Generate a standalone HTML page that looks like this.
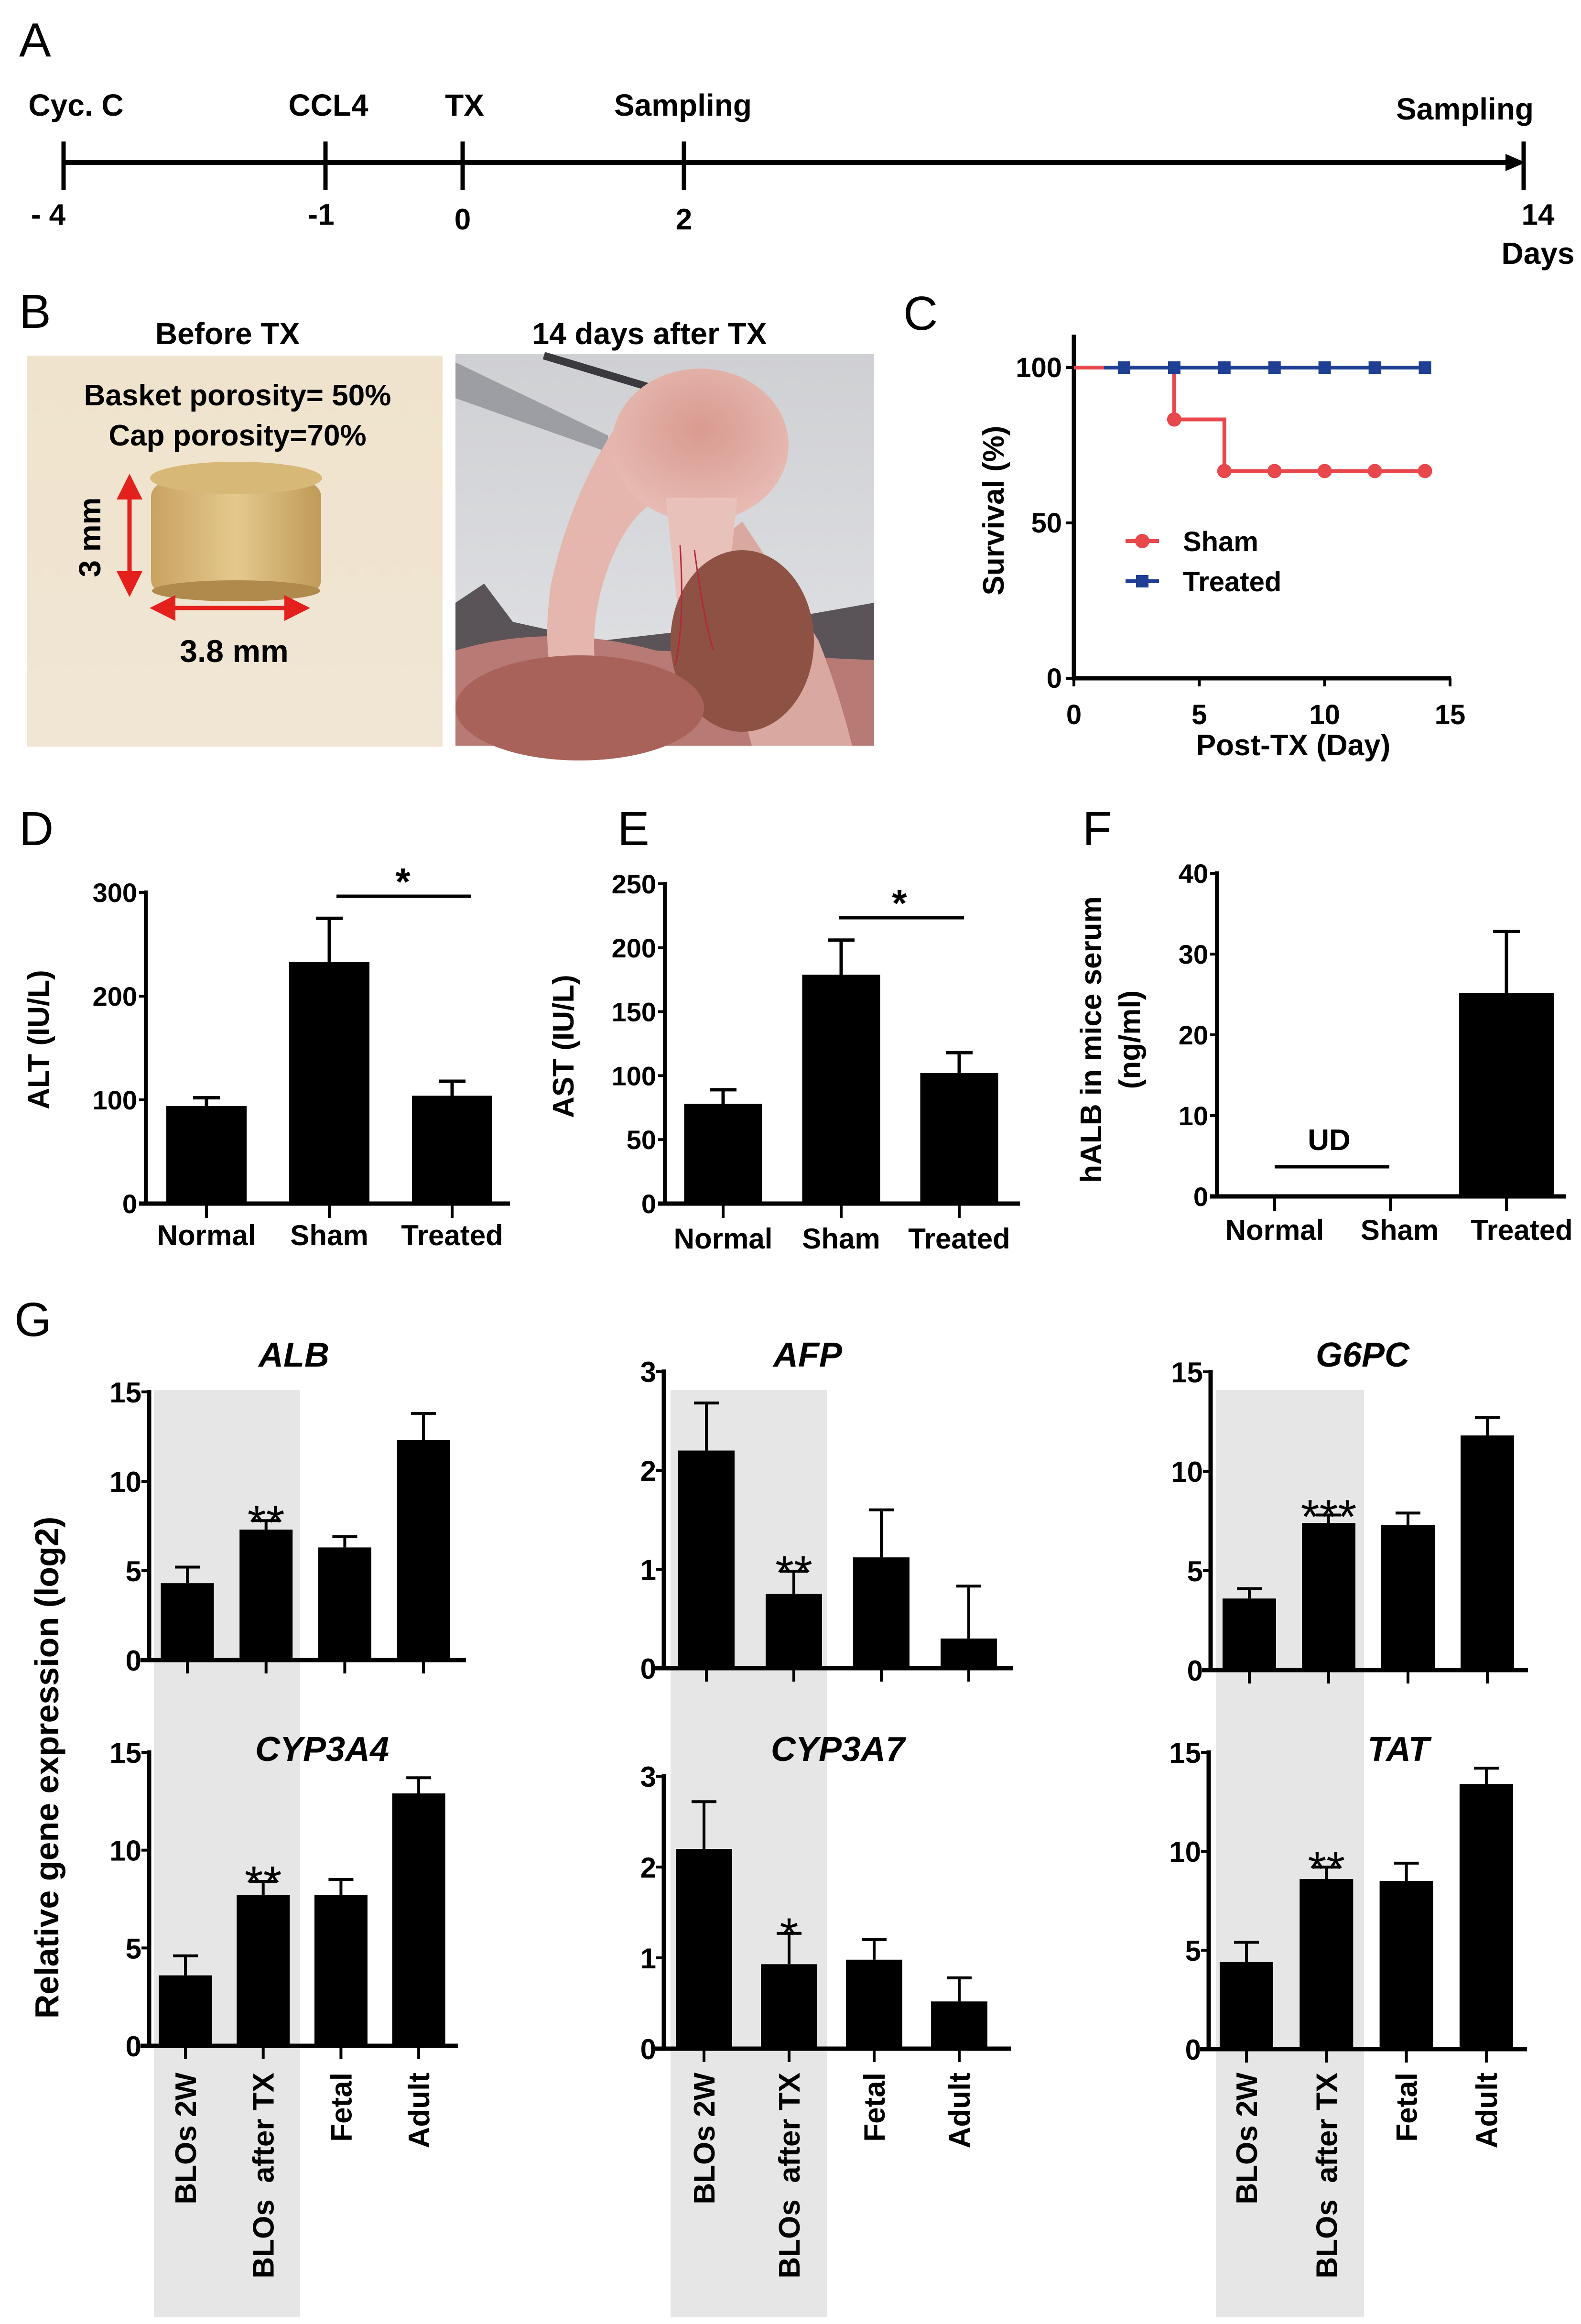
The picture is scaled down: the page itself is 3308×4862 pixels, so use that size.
<!DOCTYPE html>
<html><head><meta charset="utf-8"><title>Figure</title>
<style>
html,body{margin:0;padding:0;background:#fff;}
svg{display:block;}
text{font-family:"Liberation Sans",Arial,sans-serif;}
.nar{font-family:"Liberation Sans Narrow","Liberation Sans",Arial,sans-serif;}
</style></head>
<body>
<svg id="fig" xmlns="http://www.w3.org/2000/svg" width="3308" height="4862" viewBox="0 0 3308 4862">
<defs>
<linearGradient id="beige" x1="0" y1="0" x2="0" y2="1"><stop offset="0" stop-color="#efe3cd"/><stop offset="1" stop-color="#f1e6d4"/></linearGradient>
<linearGradient id="gold" x1="0" y1="0" x2="1" y2="0"><stop offset="0" stop-color="#c9a260"/><stop offset="0.5" stop-color="#e4c98e"/><stop offset="1" stop-color="#c09a58"/></linearGradient>
<linearGradient id="sky" x1="0" y1="0" x2="0" y2="1"><stop offset="0" stop-color="#cfd0d3"/><stop offset="1" stop-color="#e2e3e6"/></linearGradient>
<radialGradient id="pink" cx="0.5" cy="0.4" r="0.6"><stop offset="0" stop-color="#d99a90"/><stop offset="1" stop-color="#e7bcb4"/></radialGradient>
<marker id="arrR" markerWidth="6" markerHeight="6" refX="5" refY="3" orient="auto-start-reverse"><path d="M0,0 L6,3 L0,6 z" fill="#e3201b"/></marker>
</defs>
<g id="root"></g>
</svg>
<script>
// ---------- DATA ----------
const tlDays = [-4, -1, 0, 2, 14];
const tlEvents = ["Cyc. C", "CCL4", "TX", "Sampling", "Sampling"];
const tlTickLabels = ["- 4", "-1", "0", "2", "14"];

const survShamDays = [0, 4, 6, 14];
const survShamVals = [100, 83.3, 66.7, 66.7];
const survShamMarkDays = [4, 6, 8, 10, 12, 14];
const survShamMarkVals = [83.3, 66.7, 66.7, 66.7, 66.7, 66.7];
const survTreatMarkDays = [2, 4, 6, 8, 10, 12, 14];
const survTreatMarkVals = [100, 100, 100, 100, 100, 100, 100];
const survYTicks = [0, 50, 100];
const survXTicks = [0, 5, 10, 15];

const serumCats = ["Normal", "Sham", "Treated"];
const altVals = [94, 233, 104];
const altErr = [102, 275, 118];
const altTicks = [0, 100, 200, 300];
const astVals = [78, 179, 102];
const astErr = [89, 206, 118];
const astTicks = [0, 50, 100, 150, 200, 250];
const halbVals = [0, 0, 25.2];
const halbErr = [0, 0, 32.8];
const halbTicks = [0, 10, 20, 30, 40];

const geneCats = ["BLOs 2W", "BLOs\u00a0\u00a0after TX", "Fetal", "Adult"];
const albVals = [4.3, 7.3, 6.3, 12.3];
const albErr = [5.2, 7.8, 6.9, 13.8];
const afpVals = [2.2, 0.75, 1.12, 0.3];
const afpErr = [2.68, 0.98, 1.6, 0.83];
const g6pcVals = [3.6, 7.4, 7.3, 11.8];
const g6pcErr = [4.1, 7.8, 7.9, 12.7];
const cyp3a4Vals = [3.6, 7.7, 7.7, 12.9];
const cyp3a4Err = [4.6, 8.4, 8.5, 13.7];
const cyp3a7Vals = [2.2, 0.93, 0.98, 0.52];
const cyp3a7Err = [2.72, 1.27, 1.2, 0.78];
const tatVals = [4.4, 8.6, 8.5, 13.4];
const tatErr = [5.4, 9.2, 9.4, 14.2];
const ticks15 = [0, 5, 10, 15];
const ticks3 = [0, 1, 2, 3];

// ---------- HELPERS ----------
const NS = "http://www.w3.org/2000/svg";
const root = document.getElementById("root");
function mk(tag, attrs, parent) {
  const el = document.createElementNS(NS, tag);
  for (const k in attrs) el.setAttribute(k, attrs[k]);
  (parent || root).appendChild(el);
  return el;
}
function txt(x, y, s, size, opts, parent) {
  opts = opts || {};
  const a = {x: x, y: y, "font-size": size, "text-anchor": opts.anchor || "middle", fill: opts.fill || "#000"};
  if (opts.bold) a["font-weight"] = "bold";
  if (opts.italic) a["font-style"] = "italic";
  if (opts.cls) a["class"] = opts.cls;
  if (opts.rot) a.transform = "rotate(" + opts.rot + " " + x + " " + y + ")";
  const el = mk("text", a, parent);
  el.textContent = s;
  return el;
}
function grp(name) {
  const g = mk("g", {});
  
  
  return g;
}

// ---------- PANEL LETTERS ----------
const letters = [["A", 40, 118], ["B", 40, 686], ["C", 1890, 690], ["D", 40, 1768], ["E", 1292, 1768], ["F", 2265, 1768], ["G", 30, 2795]];
letters.forEach(function (L) {
  const t = txt(L[1], L[2], L[0], 100, {anchor: "start"});
  
  
});

// ---------- PANEL A: TIMELINE ----------
(function () {
  const g = grp("timeline-panel");
  const tickX = {"-4": 133, "-1": 681, "0": 968, "2": 1431, "14": 3188};
  const tx = function (d) { return tickX[String(d)]; };
  const line = mk("line", {x1: 133, y1: 340, x2: 3170, y2: 340, stroke: "#000", "stroke-width": 10}, g);
  
  
  const ar = mk("path", {d: "M3150,322 L3192,340 L3150,358 z", fill: "#000"}, g);
  
  
  tlDays.forEach(function (d, i) {
    const x = tx(d);
    const tk = mk("line", {x1: x, y1: 296, x2: x, y2: 398, stroke: "#000", "stroke-width": 9}, g);
    
    
    const evx = [159, 687, 972, 1429, 3065][i];
    const ev = txt(evx, i === 4 ? 250 : 242, tlEvents[i], 64, {bold: true, cls: "nar"}, g);
    
    
    const lx = [101, 672, 968, 1431, 3218][i];
    const lb = txt(lx, i >= 2 && i < 4 ? 480 : 470, tlTickLabels[i], 62, {bold: true, cls: "nar"}, g);
    
    
  });
  const dl = txt(3218, 552, "Days", 64, {bold: true, cls: "nar"}, g);
  
  
})();

// ---------- PANEL B: PHOTOS ----------
(function () {
  const g = grp("photo-panel");
  const t1 = txt(476, 720, "Before TX", 64, {bold: true, cls: "nar"}, g);
  
  
  const t2 = txt(1359, 720, "14 days after  TX", 64, {bold: true, cls: "nar"}, g);
  
  
  t2.setAttribute("xml:space", "preserve");
  const p1 = mk("g", {}, g);
  
  
  mk("rect", {x: 57, y: 744, width: 869, height: 818, fill: "url(#beige)"}, p1);
  mk("rect", {x: 316, y: 1010, width: 356, height: 232, rx: 30, fill: "url(#gold)"}, p1);
  mk("ellipse", {cx: 494, cy: 1000, rx: 180, ry: 34, fill: "#d8b877"}, p1);
  mk("ellipse", {cx: 494, cy: 1236, rx: 176, ry: 22, fill: "#b08a4c"}, p1);
  const a = txt(497, 848, "Basket porosity= 50%", 62, {bold: true, cls: "nar"}, p1);
  
  
  const b = txt(497, 932, "Cap porosity=70%", 62, {bold: true, cls: "nar"}, p1);
  
  
  const v = mk("line", {x1: 271, y1: 1000, x2: 271, y2: 1240, stroke: "#e3201b", "stroke-width": 9, "marker-start": "url(#arrR)", "marker-end": "url(#arrR)"}, p1);
  
  
  const h = mk("line", {x1: 322, y1: 1272, x2: 640, y2: 1272, stroke: "#e3201b", "stroke-width": 9, "marker-start": "url(#arrR)", "marker-end": "url(#arrR)"}, p1);
  
  
  const c = txt(210, 1124, "3 mm", 64, {bold: true, rot: -90}, p1);
  
  
  const d = txt(490, 1385, "3.8 mm", 66, {bold: true, cls: "nar"}, p1);
  
  
  const p2 = mk("g", {transform: "translate(953,741)"}, g);
  
  
  mk("rect", {x: 0, y: 0, width: 876, height: 819, fill: "url(#sky)"}, p2);
  mk("polygon", {points: "0,17 319,170 319,205 0,92", fill: "#9d9ea3"}, p2);
  mk("line", {x1: 185, y1: 3, x2: 492, y2: 95, stroke: "#3a3a3e", "stroke-width": 16}, p2);
  mk("path", {d: "M0,520 L60,480 L120,560 L300,600 L650,560 L876,520 L876,819 L0,819 z", fill: "#5a5458"}, p2);
  mk("path", {d: "M0,620 Q200,560 420,620 L876,640 L876,819 L0,819 z", fill: "#b87a74"}, p2);
  mk("path", {d: "M330,160 Q240,300 200,480 Q180,620 210,700 L300,700 Q270,560 330,420 Q370,330 430,300 z", fill: "#e4b6ae"}, p2);
  mk("path", {d: "M600,350 Q700,500 760,600 Q800,700 830,819 L620,819 Q560,600 540,400 z", fill: "#d9a8a0"}, p2);
  mk("ellipse", {cx: 512, cy: 190, rx: 185, ry: 160, fill: "url(#pink)"}, p2);
  mk("path", {d: "M440,300 L470,580 L560,580 L590,300 z", fill: "#e8c2ba"}, p2);
  mk("ellipse", {cx: 600, cy: 600, rx: 150, ry: 190, fill: "#8e5244"}, p2);
  mk("ellipse", {cx: 260, cy: 740, rx: 260, ry: 110, fill: "#a9625a"}, p2);
  mk("path", {d: "M470,400 Q480,560 460,650 M500,410 Q520,560 540,620", stroke: "#b3283c", "stroke-width": 3, fill: "none"}, p2);
})();

// ---------- PANEL C: SURVIVAL ----------
(function () {
  const g = grp("survival-chart");
  const sx = function (d) { return 2247 + d * (3034 - 2247) / 15; };
  const sy = function (v) { return 1419 - v * (1419 - 769) / 100; };
  const ya = mk("line", {x1: 2247, y1: 700, x2: 2247, y2: 1423, stroke: "#000", "stroke-width": 9}, g);
  
  
  const xa = mk("line", {x1: 2243, y1: 1419, x2: 3036, y2: 1419, stroke: "#000", "stroke-width": 9}, g);
  
  
  survYTicks.forEach(function (v) {
    mk("line", {x1: 2230, y1: sy(v), x2: 2247, y2: sy(v), stroke: "#000", "stroke-width": 6}, g);
    const t = txt(2222, sy(v) + 20, String(v), 58, {anchor: "end", cls: "nar", bold: true}, g);
    
    
  });
  survXTicks.forEach(function (v) {
    mk("line", {x1: sx(v), y1: 1419, x2: sx(v), y2: 1436, stroke: "#000", "stroke-width": 6}, g);
    const t = txt(sx(v), 1515, String(v), 58, {cls: "nar", bold: true}, g);
    
    
  });
  const xt = txt(2706, 1580, "Post-TX (Day)", 62, {bold: true, cls: "nar"}, g);
  
  
  const yt = txt(2100, 1068, "Survival (%)", 62, {bold: true, rot: -90}, g);
  
  
  let d = "M" + sx(survShamDays[0]) + "," + sy(survShamVals[0]);
  for (let i = 1; i < survShamDays.length; i++) {
    d += " L" + sx(survShamDays[i]) + "," + sy(survShamVals[i - 1]) + " L" + sx(survShamDays[i]) + "," + sy(survShamVals[i]);
  }
  const sl = mk("path", {d: d, fill: "none", stroke: "#e8474b", "stroke-width": 8}, g);
  
  
  const tl = mk("line", {x1: sx(1.2), y1: sy(survTreatMarkVals[0]), x2: sx(survTreatMarkDays[survTreatMarkDays.length - 1]), y2: sy(survTreatMarkVals[survTreatMarkVals.length - 1]), stroke: "#1f3f94", "stroke-width": 8}, g);
  
  
  survShamMarkDays.forEach(function (dd, i) {
    const m = mk("circle", {cx: sx(dd), cy: sy(survShamMarkVals[i]), r: 15, fill: "#e8474b"}, g);
    
    
  });
  survTreatMarkDays.forEach(function (dd, i) {
    const m = mk("rect", {x: sx(dd) - 13, y: sy(survTreatMarkVals[i]) - 13, width: 26, height: 26, fill: "#1f3f94"}, g);
    
    
  });
  const l1 = mk("g", {}, g);
  
  
  mk("line", {x1: 2355, y1: 1132, x2: 2425, y2: 1132, stroke: "#e8474b", "stroke-width": 8}, l1);
  mk("circle", {cx: 2390, cy: 1132, r: 15, fill: "#e8474b"}, l1);
  txt(2475, 1153, "Sham", 58, {anchor: "start", cls: "nar", bold: true}, l1);
  const l2 = mk("g", {}, g);
  
  
  mk("line", {x1: 2355, y1: 1216, x2: 2425, y2: 1216, stroke: "#1f3f94", "stroke-width": 8}, l2);
  mk("rect", {x: 2377, y: 1203, width: 26, height: 26, fill: "#1f3f94"}, l2);
  txt(2475, 1237, "Treated", 58, {anchor: "start", cls: "nar", bold: true}, l2);
})();

// ---------- SERUM BAR CHARTS (D, E, F) ----------
function serumChart(cfg) {
  const g = grp(cfg.name);
  const sy = function (v) { return cfg.y0 - v * (cfg.y0 - cfg.ytop) / cfg.max; };
  const ya = mk("line", {x1: cfg.ax, y1: cfg.ytop - 4, x2: cfg.ax, y2: cfg.y0 + 4, stroke: "#000", "stroke-width": 8}, g);
  
  
  const xa = mk("line", {x1: cfg.ax - 14, y1: cfg.y0, x2: cfg.xend, y2: cfg.y0, stroke: "#000", "stroke-width": 9}, g);
  
  
  cfg.ticks.forEach(function (v) {
    mk("line", {x1: cfg.ax - 14, y1: sy(v), x2: cfg.ax, y2: sy(v), stroke: "#000", "stroke-width": 6}, g);
    const t = txt(cfg.ax - 18, sy(v) + 20, String(v), 56, {anchor: "end", cls: "nar", bold: true}, g);
    
    
  });
  cfg.cats.forEach(function (c, i) {
    const cx = cfg.c0 + i * cfg.step;
    mk("line", {x1: cx, y1: cfg.y0, x2: cx, y2: cfg.y0 + 30, stroke: "#000", "stroke-width": 6}, g);
    if (cfg.vals[i] > 0) {
      const top = sy(cfg.errs[i]);
      const e = mk("path", {d: "M" + cx + "," + sy(cfg.vals[i]) + " L" + cx + "," + top + " M" + (cx - 28) + "," + top + " L" + (cx + 28) + "," + top, stroke: "#000", "stroke-width": 7, fill: "none"}, g);
      
      
      const r = mk("rect", {x: cx - cfg.bw / 2, y: sy(cfg.vals[i]), width: cfg.bw, height: cfg.y0 - sy(cfg.vals[i]), fill: "#000"}, g);
      
      
    }
    const t = txt(cx + (cfg.lshift ? cfg.lshift[i] : 0), cfg.lab, c, 60, {bold: true, cls: "nar"}, g);
    
    
  });
  cfg.title.forEach(function (tt, k) {
    const t = txt(cfg.tx[k], cfg.ty, tt, 62, {bold: true, rot: -90}, g);
    
    
  });
  return {g: g, sy: sy};
}
(function () {
  const D = serumChart({name: "alt-chart", ax: 305, y0: 2518, ytop: 1867, max: 300, xend: 1067, ticks: altTicks, cats: serumCats, vals: altVals, errs: altErr, c0: 432, step: 257, bw: 168, lab: 2605, title: ["ALT (IU/L)"], tx: [102], ty: 2175});
  const s1 = mk("line", {x1: 704, y1: 1875, x2: 986, y2: 1875, stroke: "#000", "stroke-width": 7}, D.g);
  
  
  const a1 = txt(843, 1872, "*", 80, {bold: true}, D.g);
  
  
  const E = serumChart({name: "ast-chart", ax: 1391, y0: 2518, ytop: 1849, max: 250, xend: 2134, ticks: astTicks, cats: serumCats, vals: astVals, errs: astErr, c0: 1513, step: 247, bw: 163, lab: 2612, title: ["AST (IU/L)"], tx: [1200], ty: 2189});
  const s2 = mk("line", {x1: 1756, y1: 1920, x2: 2017, y2: 1920, stroke: "#000", "stroke-width": 7}, E.g);
  
  
  const a2 = txt(1882, 1917, "*", 80, {bold: true}, E.g);
  
  
  const F = serumChart({name: "halb-chart", ax: 2546, y0: 2503, ytop: 1827, max: 40, xend: 3276, ticks: halbTicks, cats: serumCats, vals: halbVals, errs: halbErr, c0: 2667, step: 242.5, bw: 198, lab: 2594, lshift: [0, 19, 32], title: ["hALB in mice serum", "(ng/ml)"], tx: [2304, 2385], ty: 2175});
  const u = mk("line", {x1: 2667, y1: 2441, x2: 2907, y2: 2441, stroke: "#000", "stroke-width": 7}, F.g);
  
  
  const ud = txt(2781, 2406, "UD", 62, {bold: true, cls: "nar"}, F.g);
  
  
})();

// ---------- PANEL G: GENE EXPRESSION ----------
[[322, 628], [1403, 1730], [2544, 2854]].forEach(function (b) {
  const r = mk("rect", {x: b[0], y: 2908, width: b[1] - b[0], height: 4848 - 2908, fill: "#e6e6e6"});
  
  
});
function geneChart(cfg) {
  const g = grp("gene-chart-" + cfg.title.toLowerCase());
  const sy = function (v) { return cfg.y0 - v * (cfg.y0 - cfg.ytop) / cfg.max; };
  const ya = mk("line", {x1: cfg.ax, y1: cfg.ytop - 4, x2: cfg.ax, y2: cfg.y0 + 4, stroke: "#000", "stroke-width": 9}, g);
  
  
  const xa = mk("line", {x1: cfg.ax - 18, y1: cfg.y0, x2: cfg.xend, y2: cfg.y0, stroke: "#000", "stroke-width": 9}, g);
  
  
  cfg.ticks.forEach(function (v) {
    mk("line", {x1: cfg.ax - 16, y1: sy(v), x2: cfg.ax, y2: sy(v), stroke: "#000", "stroke-width": 6}, g);
    const t = txt(cfg.ax - 16, sy(v) + 22, String(v), 60, {anchor: "end", cls: "nar", bold: true}, g);
    
    
  });
  cfg.vals.forEach(function (v, i) {
    const cx = cfg.ax + cfg.off + i * cfg.step;
    mk("line", {x1: cx, y1: cfg.y0, x2: cx, y2: cfg.y0 + 28, stroke: "#000", "stroke-width": 6}, g);
    const top = sy(cfg.errs[i]);
    const e = mk("path", {d: "M" + cx + "," + sy(v) + " L" + cx + "," + top + " M" + (cx - 26) + "," + top + " L" + (cx + 26) + "," + top, stroke: "#000", "stroke-width": 6, fill: "none"}, g);
    
    
    const r = mk("rect", {x: cx - cfg.bw / 2, y: sy(v), width: cfg.bw, height: cfg.y0 - sy(v), fill: "#000"}, g);
    
    
    if (i === 1) {
      const s = txt(cx, top + 38, cfg.star, 100, {}, g);
      
      
    }
    if (cfg.labels) {
      const l = txt(cx + 22, 4336, geneCats[i], 62, {bold: true, anchor: "end", rot: -90}, g);
      
      
    }
  });
  const t = txt(cfg.tx, cfg.ty, cfg.title, 72, {bold: true, italic: true}, g);
  
  
}
geneChart({title: "ALB", ax: 312, y0: 3473, ytop: 2912, max: 15, xend: 975, off: 80, step: 164.7, bw: 111, vals: albVals, errs: albErr, ticks: ticks15, star: "**", tx: 615, ty: 2859});
geneChart({title: "AFP", ax: 1389, y0: 3490, ytop: 2869, max: 3, xend: 2120, off: 89, step: 183, bw: 118, vals: afpVals, errs: afpErr, ticks: ticks3, star: "**", tx: 1690, ty: 2859});
geneChart({title: "G6PC", ax: 2533, y0: 3494, ytop: 2870, max: 15, xend: 3197, off: 81, step: 166, bw: 112, vals: g6pcVals, errs: g6pcErr, ticks: ticks15, star: "***", tx: 2851, ty: 2859});
geneChart({title: "CYP3A4", ax: 312, y0: 4280, ytop: 3666, max: 15, xend: 958, off: 76, step: 162.7, bw: 111, vals: cyp3a4Vals, errs: cyp3a4Err, ticks: ticks15, star: "**", tx: 674, ty: 3684, labels: true});
geneChart({title: "CYP3A7", ax: 1389, y0: 4286, ytop: 3716, max: 3, xend: 2115, off: 84, step: 178, bw: 118, vals: cyp3a7Vals, errs: cyp3a7Err, ticks: ticks3, star: "*", tx: 1753, ty: 3684, labels: true});
geneChart({title: "TAT", ax: 2529, y0: 4287, ytop: 3666, max: 15, xend: 3195, off: 79, step: 167.3, bw: 112, vals: tatVals, errs: tatErr, ticks: ticks15, star: "**", tx: 2926, ty: 3684, labels: true});
(function () {
  const t = txt(122, 3698, "Relative gene expression (log2)", 70, {bold: true, rot: -90});
  
  
})();
</script>
</body></html>
